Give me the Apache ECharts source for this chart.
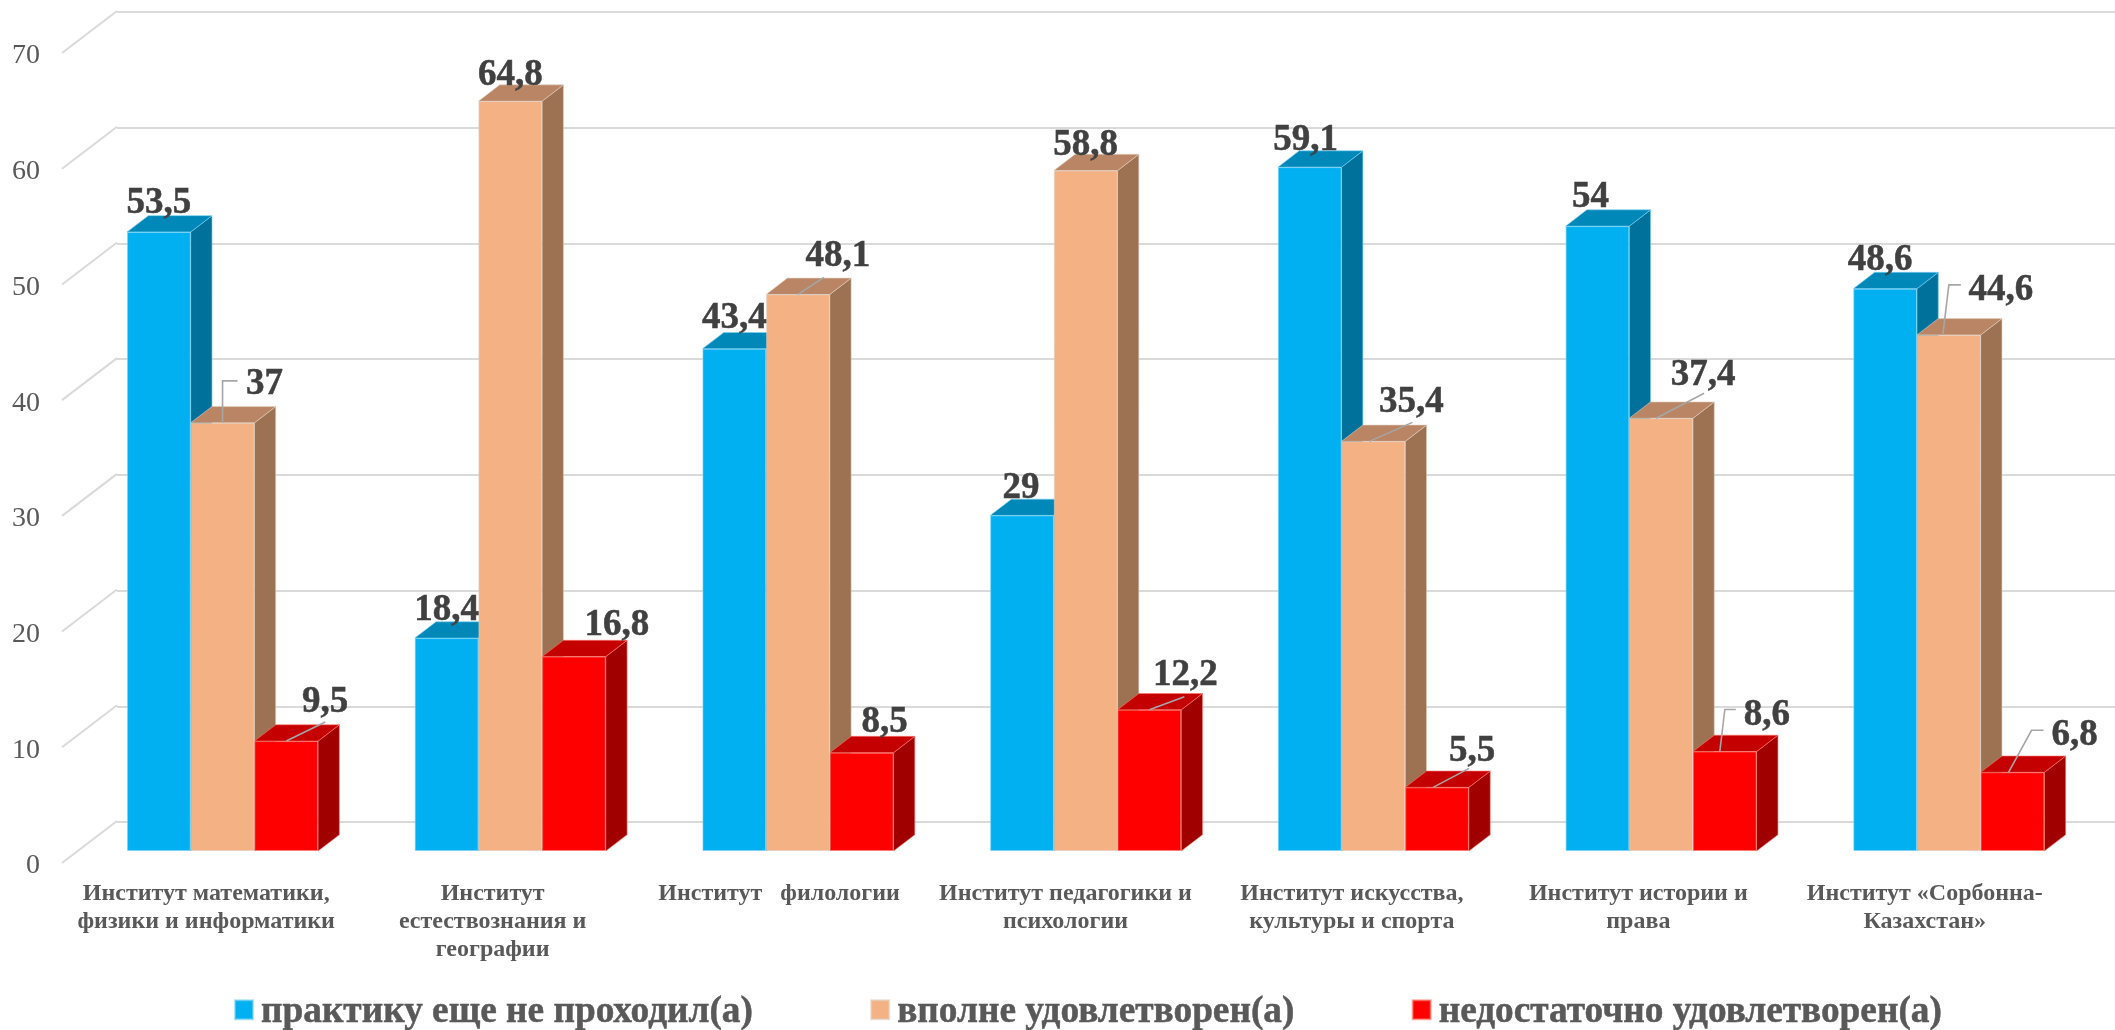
<!DOCTYPE html>
<html><head><meta charset="utf-8">
<style>html,body{margin:0;padding:0;background:#fff}#c{width:2115px;height:1030px}</style>
<script src="https://cdn.jsdelivr.net/npm/echarts@6/dist/echarts.min.js"></script>
</head><body><div id="c"></div>
<script>
const categories = [
  'Институт математики,\nфизики и информатики',
  'Институт\nестествознания и\nгеографии',
  'Институт   филологии',
  'Институт педагогики и\nпсихологии',
  'Институт искусства,\nкультуры и спорта',
  'Институт истории и\nправа',
  'Институт «Сорбонна-\nКазахстан»'
];
const seriesNames = ['практику еще не проходил(а)','вполне удовлетворен(а)','недостаточно удовлетворен(а)'];
const notPassed = [53.5,18.4,43.4,29,59.1,54,48.6];
const satisfied = [37,64.8,48.1,58.8,35.4,37.4,44.6];
const unsatisfied = [9.5,16.8,8.5,12.2,5.5,8.6,6.8];
const valueTicks = [0,10,20,30,40,50,60,70];

const allValues = [notPassed,satisfied,unsatisfied];
const fronts = ['#00B0F0','#F4B183','#FF0000'];
const tops = ['#0088B9','#B98564','#C40000'];
const sides = ['#00719B','#9D7252','#A00000'];
const edges = ['rgba(120,210,245,0.6)','rgba(225,205,190,0.6)','rgba(255,120,110,0.6)'];
const FONT = '"Liberation Serif"';
const DX = 21.3, DY = 16.3, BAR_RATIO = 0.664/3, LABEL_SHIFT = 4, TICK_LABEL_DROP = 3;

// label placement relative to the top-centre of each bar's front face
const labelOffsets = [
  [[0,-32],[0,-32],[0,-34],[-1,-31],[-4,-31],[-7,-33],[-5,-32]],
  [[42,-42],[0,-30],[40,-42],[0,-29],[38,-43],[42,-47],[52,-48]],
  [[39,-43],[43,-35],[23,-34],[36,-38],[35,-40],[42,-40],[62,-41]]
];
const leaders = [
  [null,null,null,null,null,null,null],
  [[[0,0],[0,-42],[15,-42]],null,[[0,0],[26,-17]],null,[[-4,0],[39,-19]],[[-5,0],[43,-25]],[[-6,0],[0,-50],[12,-50]]],
  [[[0,0],[39,-19]],null,null,[[0,0],[35,-13]],[[-4,0],[32,-19]],[[-5,0],[0,-42],[11,-42]],[[-4,0],[19,-42],[31,-42]]]
];

const fmt = v => String(v).replace('.',',');

function faces(s){
  return function(params, api){
    const i = api.value(0), v = api.value(1);
    const top = api.coord([i,v]), base = api.coord([i,0]);
    const w = api.size([1,0])[0]*BAR_RATIO;
    const L = top[0]+(s-1.5)*w, R = L+w, T = top[1], B = base[1];
    return {type:'group',children:[
      {type:'polygon',shape:{points:[[R,T],[R+DX,T-DY],[R+DX,B-DY],[R,B]]},style:{fill:sides[s],stroke:edges[s],lineWidth:1}},
      {type:'polygon',shape:{points:[[L,T],[L+DX,T-DY],[R+DX,T-DY],[R,T]]},style:{fill:tops[s],stroke:edges[s],lineWidth:1}}
    ]};
  };
}
function leaderLines(s){
  return function(params, api){
    const i = api.value(0), v = api.value(1);
    const pts = leaders[s][i];
    if(!pts) return null;
    const top = api.coord([i,v]);
    const w = api.size([1,0])[0]*BAR_RATIO;
    const cx = top[0]+(s-1)*w;
    return {type:'polyline',shape:{points:pts.map(p=>[cx+p[0],top[1]+p[1]])},
      style:{stroke:'#A6A6A6',lineWidth:1.6,fill:null}};
  };
}
const series = [];
// diagonal floor/wall joints of the grid, tied to the front value axis
series.push({type:'custom',coordinateSystem:'cartesian2d',xAxisIndex:0,yAxisIndex:0,z:1,silent:true,
  data:valueTicks.map(t=>[0,t]),encode:{x:0,y:1},
  renderItem:(p,api)=>{
    const c = api.coord([0,api.value(1)]);
    const left = p.coordSys.x-1, y = c[1]-TICK_LABEL_DROP;
    return {type:'line',shape:{x1:left,y1:y,x2:left+55,y2:y-42},style:{stroke:'#DADADA',lineWidth:2}};
  }});
allValues.forEach((vals,s)=>{
  series.push({type:'custom',coordinateSystem:'cartesian2d',xAxisIndex:2,yAxisIndex:2,z:3,silent:true,
    data:vals.map((v,i)=>[i,v]),encode:{x:0,y:1},renderItem:faces(s)});
});
allValues.forEach((vals,s)=>{
  series.push({type:'bar',name:seriesNames[s],xAxisIndex:2,yAxisIndex:2,z:4,
    barGap:0,barCategoryGap:'33.6%',itemStyle:{color:fronts[s],borderColor:edges[s],borderWidth:1},
    data:vals.map((v,i)=>({value:v,label:{offset:[labelOffsets[s][i][0],labelOffsets[s][i][1]+LABEL_SHIFT]}})),
    label:{show:true,position:'top',distance:0,verticalAlign:'middle',formatter:p=>fmt(p.value),
      fontFamily:FONT,fontWeight:'bold',fontSize:37,color:'#404040',textBorderColor:'#404040',textBorderWidth:0.5}});
});
allValues.forEach((vals,s)=>{
  series.push({type:'custom',coordinateSystem:'cartesian2d',xAxisIndex:2,yAxisIndex:2,z:5,silent:true,
    data:vals.map((v,i)=>[i,v]),encode:{x:0,y:1},renderItem:leaderLines(s)});
});

const hiddenAxis = {axisLine:{show:false},axisTick:{show:false},axisLabel:{show:false},splitLine:{show:false}};
const chart = echarts.init(document.getElementById('c'),null,{renderer:'canvas'});
chart.setOption({
  animation:false,
  backgroundColor:'#fff',
  grid:[
    {left:63,width:2005,top:53+TICK_LABEL_DROP,height:810},
    {left:117,right:0,top:12,height:810},
    {left:78.7,width:2014,top:41,height:810}
  ],
  xAxis:[
    {gridIndex:0,type:'category',data:categories,axisLine:{show:false},axisTick:{show:false},splitLine:{show:false},
      axisLabel:{interval:0,margin:14,fontFamily:FONT,fontWeight:'bold',fontSize:24,lineHeight:28,color:'#595959',verticalAlign:'top'}},
    Object.assign({gridIndex:1,type:'value',min:0,max:1},hiddenAxis),
    Object.assign({gridIndex:2,type:'category',data:categories},hiddenAxis)
  ],
  yAxis:[
    {gridIndex:0,type:'value',min:0,max:70,interval:10,axisLine:{show:false},axisTick:{show:false},splitLine:{show:false},
      axisLabel:{margin:23,fontFamily:FONT,fontSize:28,color:'#595959'}},
    Object.assign({},hiddenAxis,{gridIndex:1,type:'value',min:0,max:70,interval:10,splitLine:{show:true,lineStyle:{color:'#DADADA',width:2}}}),
    Object.assign({gridIndex:2,type:'value',min:0,max:70,interval:10},hiddenAxis)
  ],
  legend:{data:seriesNames,left:229,top:989,itemWidth:18,itemHeight:19,itemGap:117,icon:'rect',
    formatter:n=>'{t|'+n+'}',
    textStyle:{rich:{t:{fontFamily:FONT,fontWeight:'bold',fontSize:37.3,color:'#595959',textBorderColor:'#595959',textBorderWidth:0.5,padding:[6,0,0,3]}}}},
  series
});
</script></body></html>
